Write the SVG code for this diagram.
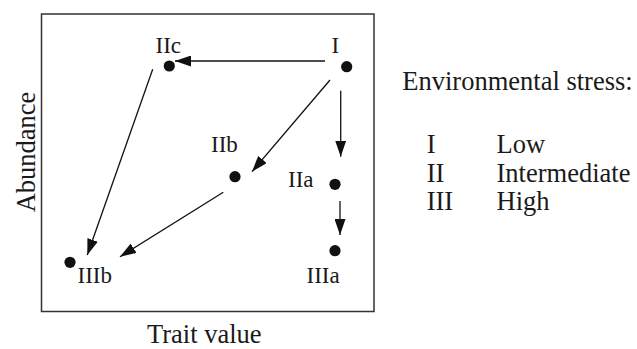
<svg xmlns="http://www.w3.org/2000/svg" width="637" height="349" viewBox="0 0 637 349">
<style>
text{font-family:"Liberation Serif","DejaVu Serif",serif;fill:#1a1a1a}
.n{font-size:23px}
.l{font-size:26.5px}
.dot{fill:#111}
.c{stroke:#111;stroke-width:1.3;fill:none;marker-end:url(#ah)}
</style>
<defs>
<marker id="ah" viewBox="0 0 16 11" refX="16" refY="5.5" markerWidth="16" markerHeight="11" markerUnits="userSpaceOnUse" orient="auto">
<path d="M0,0 L16,5.5 L0,11 Z" fill="#111"/>
</marker>
</defs>
<rect x="41.5" y="14" width="332.5" height="297.5" fill="none" stroke="#333" stroke-width="1.5"/>
<g id="I"><circle class="dot" cx="346.7" cy="66.7" r="5.6"/><text class="n" x="331.5" y="52.5">I</text></g>
<g id="IIc"><circle class="dot" cx="169.3" cy="66" r="5.6"/><text class="n" x="155.5" y="52.5">IIc</text></g>
<g id="IIb"><circle class="dot" cx="235" cy="176.7" r="5.6"/><text class="n" x="211" y="152">IIb</text></g>
<g id="IIa"><circle class="dot" cx="335" cy="184.3" r="5.6"/><text class="n" x="288" y="187">IIa</text></g>
<g id="IIIa"><circle class="dot" cx="335" cy="250.7" r="5.6"/><text class="n" x="306.5" y="283">IIIa</text></g>
<g id="IIIb"><circle class="dot" cx="70" cy="262.3" r="5.6"/><text class="n" x="77.5" y="283">IIIb</text></g>
<g id="connectors">
<line class="c" x1="325" y1="61" x2="175" y2="61"/>
<line class="c" x1="330" y1="80" x2="252" y2="171.7"/>
<line class="c" x1="340.7" y1="90.7" x2="340.7" y2="156.7"/>
<line class="c" x1="340" y1="201" x2="340" y2="235"/>
<line class="c" x1="152.7" y1="69.3" x2="87.3" y2="255"/>
<line class="c" x1="223.3" y1="192.3" x2="120" y2="256.7"/>
</g>
<text class="l" x="147" y="343">Trait value</text>
<text class="l" transform="translate(35,152) rotate(-90)" text-anchor="middle">Abundance</text>
<g id="legend">
<text class="l" x="402.3" y="90">Environmental stress:</text>
<text class="l" x="426.7" y="153.3">I</text>
<text class="l" x="496.5" y="153.3">Low</text>
<text class="l" x="426.7" y="181.7">II</text>
<text class="l" x="496.5" y="181.7">Intermediate</text>
<text class="l" x="426.7" y="210">III</text>
<text class="l" x="496.5" y="210">High</text>
</g>
</svg>
